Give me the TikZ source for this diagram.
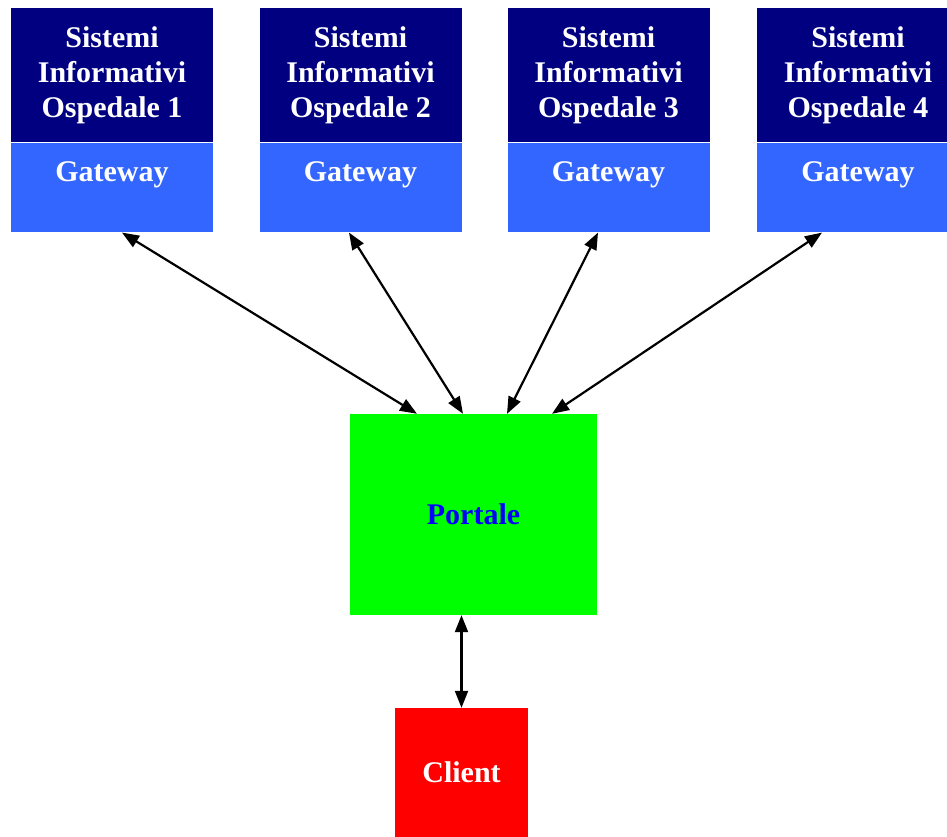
\documentclass[tikz,border=0pt]{standalone}
\usepackage{fontspec}
\setmainfont{Liberation Serif}
\usetikzlibrary{arrows.meta, positioning}
\definecolor{navybox}{HTML}{000080}
\definecolor{gwblue}{HTML}{3366FF}
\definecolor{portgreen}{HTML}{00FF00}
\definecolor{clientred}{HTML}{FF0000}
\tikzset{
  block/.style   = {align=center, inner sep=0pt, text=white,
                    font=\fontsize{30}{35}\selectfont\bfseries},
  sysbox/.style  = {block, fill=navybox, minimum width=202pt, minimum height=134pt},
  gwbox/.style   = {block, fill=gwblue, minimum width=202pt,
                    text height=38pt, text depth=51pt},
  portal/.style  = {block, fill=portgreen, text=blue, minimum width=247pt,
                    minimum height=201pt},
  client/.style  = {block, fill=clientred, minimum width=133pt, minimum height=129pt},
  link/.style    = {{Triangle[length=17pt, width=13pt]}-{Triangle[length=17pt, width=13pt]},
                    line width=2.2pt, draw=black}
}
\begin{document}
\begin{tikzpicture}[x=1pt, y=-1pt, node distance=1pt]
\useasboundingbox (0,0) rectangle (947,837);

\node[sysbox] at (112  , 75) (sis1) {Sistemi\\Informativi\\Ospedale 1};
\node[sysbox] at (360.5, 75) (sis2) {Sistemi\\Informativi\\Ospedale 2};
\node[sysbox] at (608.5, 75) (sis3) {Sistemi\\Informativi\\Ospedale 3};
\node[sysbox] at (858  , 75) (sis4) {Sistemi\\Informativi\\Ospedale 4};

\node[gwbox, below=of sis1] (gw1) {Gateway};
\node[gwbox, below=of sis2] (gw2) {Gateway};
\node[gwbox, below=of sis3] (gw3) {Gateway};
\node[gwbox, below=of sis4] (gw4) {Gateway};

\node[portal] at (473.5, 514.5) (portale) {Portale};
\node[client] at (461.5, 772.5) (client)  {Client};

\draw[link] ([xshift=10pt]gw1.south)    -- ([xshift=-56.5pt]portale.north);
\draw[link] ([xshift=-11.5pt]gw2.south) -- ([xshift=-10.5pt]portale.north);
\draw[link] ([xshift=-10.5pt]gw3.south) -- ([xshift=33.5pt]portale.north);
\draw[link] ([xshift=-36pt]gw4.south)   -- ([xshift=78.5pt]portale.north);
\draw[link] (client.north |- portale.south) -- (client.north);
\end{tikzpicture}
\end{document}
